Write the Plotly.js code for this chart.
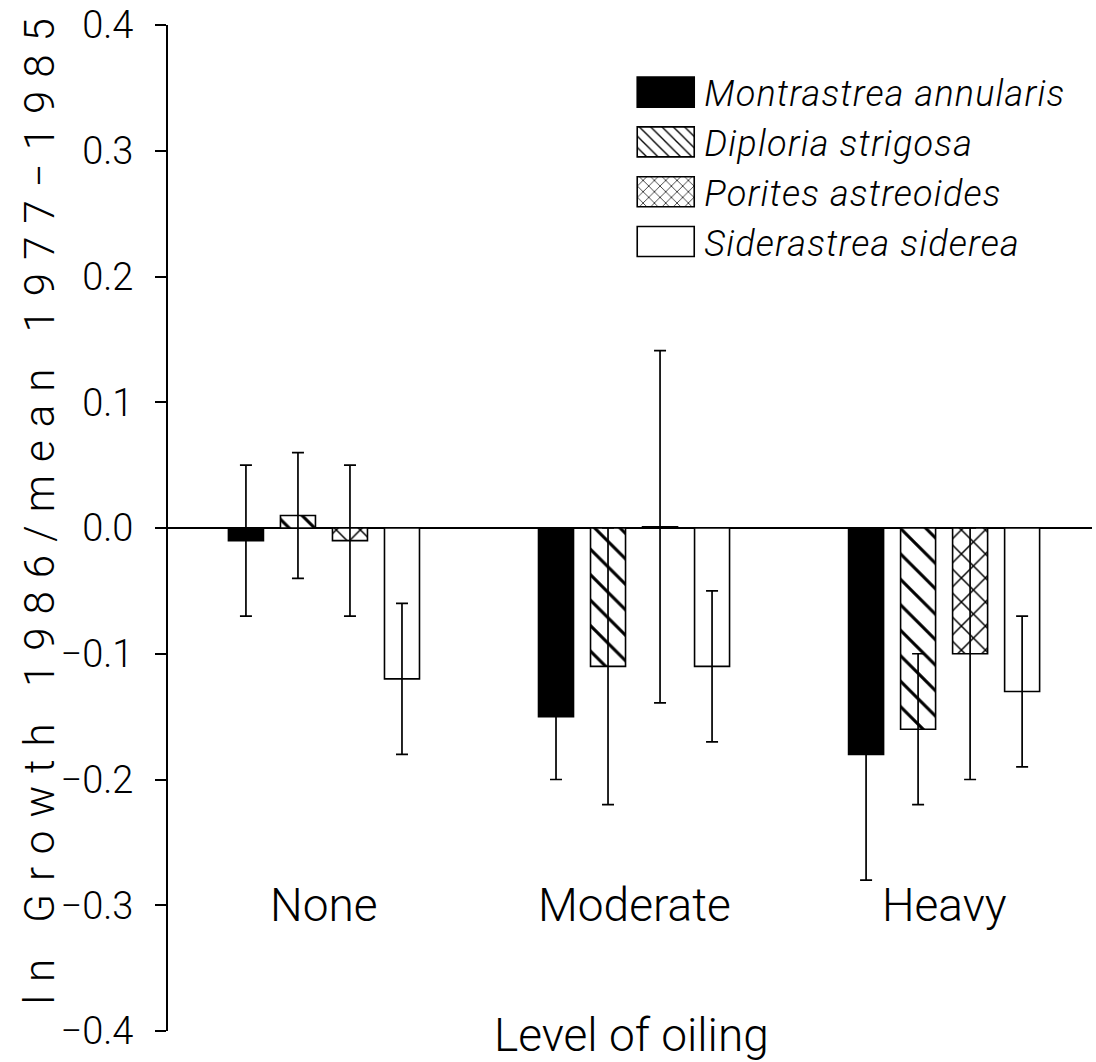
<!DOCTYPE html>
<html>
<head>
<meta charset="utf-8">
<script src="https://cdn.plot.ly/plotly-3.0.1.min.js"></script>
<style>
  html, body { margin: 0; padding: 0; background: #fff; }
  #chart { width: 1096px; height: 1062px; }
  .annotation[data-index="4"] text { letter-spacing: 13px; }
  .legend * { clip-path: none !important; }
  .legend .legendpoints path { d: path("M28.5,15H-28.5V-15H28.5Z"); }
  .legend .legendtext { letter-spacing: 1.2px; }
</style>
</head>
<body>
<div id="chart"></div>
<script>
// ---- data ----
const categories = ["None", "Moderate", "Heavy"];
const seriesNames = ["Montrastrea annularis", "Diploria strigosa", "Porites astreoides", "Siderastrea siderea"];
const montrastrea = [-0.01, -0.15, -0.18];
const montrastreaErr = [0.06, 0.05, 0.10];
const diploria = [0.01, -0.11, -0.16];
const diploriaErr = [0.05, 0.11, 0.06];
const porites = [-0.01, 0.001, -0.10];
const poritesErr = [0.06, 0.14, 0.10];
const siderastrea = [-0.12, -0.11, -0.13];
const siderastreaErr = [0.06, 0.06, 0.06];
const yTicks = [-0.4, -0.3, -0.2, -0.1, 0.0, 0.1, 0.2, 0.3, 0.4];
const yTitle = "ln Growth 1986/mean 1977\u22121985";
const xTitle = "Level of oiling";

const FONT = "Roboto, 'Open Sans', Lato, sans-serif";

function mk(name, y, err, color, shape, psize) {
  const marker = { color: color, line: { color: "#000", width: 1.6 } };
  if (shape) {
    marker.pattern = { shape: shape, fgcolor: "#000", fgopacity: 1, bgcolor: "#fff", size: psize, solidity: 0.17, fillmode: "overlay" };
  }
  return {
    type: "bar", name: name, x: categories, y: y,
    marker: marker,
    error_y: { type: "data", array: err, visible: true, color: "#000", thickness: 1.7, width: 6 }
  };
}

const traces = [
  mk(seriesNames[0], montrastrea, montrastreaErr, "#000", null),
  mk(seriesNames[1], diploria, diploriaErr, "#fff", "\\", 18),
  mk(seriesNames[2], porites, poritesErr, "#fff", "x", 17),
  mk(seriesNames[3], siderastrea, siderastreaErr, "#fff", null)
];

const annotations = categories.map((c) => ({
  x: c, y: -0.3, xref: "x", yref: "y", text: c, showarrow: false,
  xanchor: "center", yanchor: "middle",
  font: { family: FONT, size: 46, color: "#000", weight: 300 }
}));
annotations.push({
  x: 0.502, y: -0.004, xref: "paper", yref: "paper", text: xTitle, showarrow: false,
  xanchor: "center", yanchor: "middle",
  font: { family: FONT, size: 46, color: "#000", weight: 300 }
});
annotations.push({
  x: -0.1385, y: 0.523, xref: "paper", yref: "paper", text: yTitle, showarrow: false,
  textangle: -90, xanchor: "center", yanchor: "middle",
  font: { family: FONT, size: 42, color: "#000", weight: 300 }
});

const layout = {
  width: 1096, height: 1062,
  margin: { l: 168, r: 4, t: 25, b: 31 },
  paper_bgcolor: "#fff", plot_bgcolor: "#fff",
  barmode: "group", bargap: 0.329, bargroupgap: 0.327,
  showlegend: true,
  legend: {
    x: 0.497, y: 0.963, xanchor: "left", yanchor: "top",
    bgcolor: "rgba(0,0,0,0)", borderwidth: 0,
    itemwidth: 67, tracegroupgap: 0,
    font: { family: FONT, size: 36, color: "#000", style: "italic", weight: 300 }
  },
  xaxis: {
    type: "category", range: [-0.503, 2.477],
    showline: false, showticklabels: false, ticks: "", showgrid: false, zeroline: false
  },
  yaxis: {
    range: [-0.4, 0.4], tickvals: yTicks, tickformat: ".1f",
    showline: true, linecolor: "#000", linewidth: 2,
    ticks: "outside", ticklen: 11, tickwidth: 2, tickcolor: "#000",
    ticklabelstandoff: 14,
    showgrid: false, zeroline: true, zerolinecolor: "#000", zerolinewidth: 2,
    tickfont: { family: FONT, size: 38, color: "#000", weight: 300 },
    automargin: false
  },
  annotations: annotations
};

Plotly.newPlot("chart", traces, layout, { displayModeBar: false, staticPlot: true });
</script>
</body>
</html>
